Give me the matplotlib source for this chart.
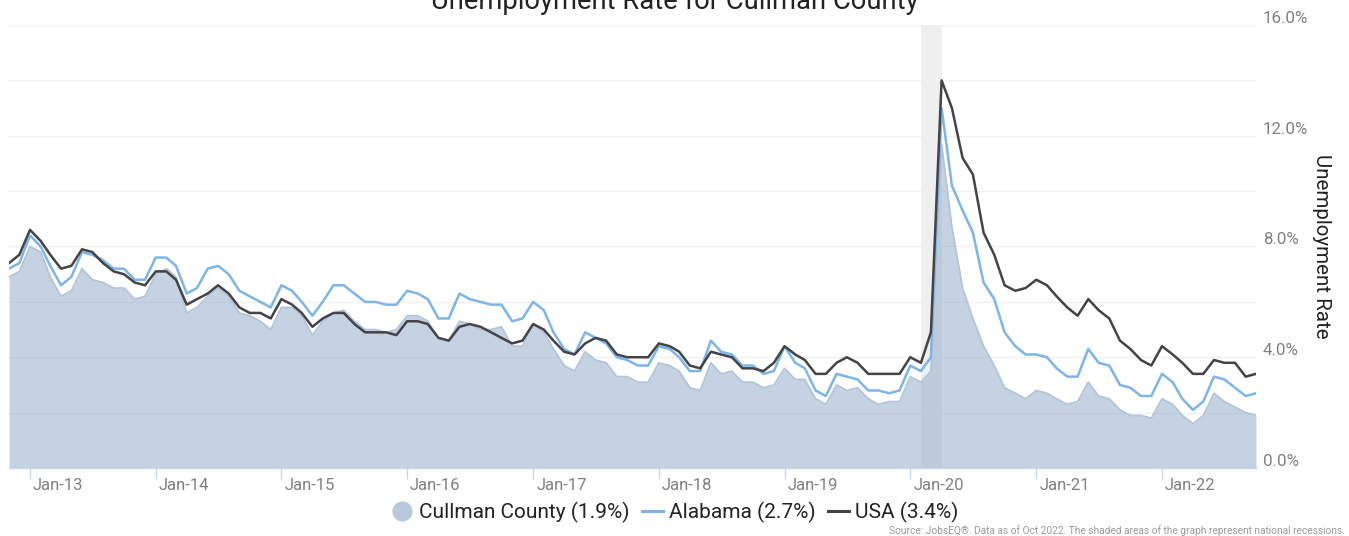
import numpy as np
import pandas as pd
import matplotlib
matplotlib.use("Agg")
import matplotlib.pyplot as plt
from matplotlib.transforms import ScaledTranslation
from matplotlib.lines import Line2D

plt.rcParams['font.family'] = ['Roboto', 'DejaVu Sans']

# ---------------- data ----------------
months = pd.date_range('2012-11-01', periods=120, freq='MS')

cullman = [6.9, 7.1, 8.0, 7.8, 6.9, 6.2, 6.4, 7.2, 6.8, 6.7, 6.5, 6.5,
           6.1, 6.2, 7.0, 7.2, 6.9, 5.6, 5.8, 6.2, 6.5, 6.2, 5.6, 5.5,
           5.3, 5.0, 5.8, 5.8, 5.5, 4.8, 5.3, 5.6, 5.7, 5.3, 5.0, 5.0,
           4.9, 5.0, 5.5, 5.5, 5.3, 4.7, 4.6, 5.3, 5.2, 5.0, 5.0, 5.1,
           4.4, 4.4, 5.2, 4.9, 4.3, 3.7, 3.5, 4.2, 3.9, 3.8, 3.3, 3.3,
           3.1, 3.1, 3.8, 3.7, 3.5, 2.9, 2.8, 3.8, 3.4, 3.5, 3.1, 3.1,
           2.9, 3.0, 3.6, 3.2, 3.2, 2.5, 2.3, 3.0, 2.8, 2.9, 2.5, 2.3,
           2.4, 2.4, 3.3, 3.1, 3.5, 11.7, 8.7, 6.5, 5.4, 4.4, 3.7, 2.9,
           2.7, 2.5, 2.8, 2.7, 2.5, 2.3, 2.4, 3.1, 2.6, 2.5, 2.1, 1.9,
           1.9, 1.8, 2.5, 2.3, 1.9, 1.6, 1.9, 2.7, 2.4, 2.2, 2.0, 1.9]

alabama = [7.2, 7.4, 8.4, 8.0, 7.3, 6.6, 6.9, 7.8, 7.7, 7.5, 7.2, 7.2,
           6.8, 6.8, 7.6, 7.6, 7.3, 6.3, 6.5, 7.2, 7.3, 7.0, 6.4, 6.2,
           6.0, 5.8, 6.6, 6.4, 6.0, 5.5, 6.0, 6.6, 6.6, 6.3, 6.0, 6.0,
           5.9, 5.9, 6.4, 6.3, 6.1, 5.4, 5.4, 6.3, 6.1, 6.0, 5.9, 5.9,
           5.3, 5.4, 6.0, 5.7, 4.9, 4.3, 4.1, 4.9, 4.7, 4.5, 4.0, 3.9,
           3.7, 3.7, 4.4, 4.3, 4.0, 3.5, 3.5, 4.6, 4.2, 4.1, 3.7, 3.7,
           3.4, 3.5, 4.4, 3.8, 3.6, 2.8, 2.6, 3.4, 3.3, 3.2, 2.8, 2.8,
           2.7, 2.8, 3.7, 3.5, 4.0, 13.0, 10.2, 9.3, 8.5, 6.7, 6.1, 4.9,
           4.4, 4.1, 4.1, 4.0, 3.6, 3.3, 3.3, 4.3, 3.8, 3.7, 3.0, 2.9,
           2.6, 2.6, 3.4, 3.1, 2.5, 2.1, 2.4, 3.3, 3.2, 2.9, 2.6, 2.7]

usa = [7.4, 7.7, 8.6, 8.2, 7.7, 7.2, 7.3, 7.9, 7.8, 7.4, 7.1, 7.0,
       6.7, 6.6, 7.1, 7.1, 6.8, 5.9, 6.1, 6.3, 6.6, 6.3, 5.8, 5.6,
       5.6, 5.4, 6.1, 5.9, 5.6, 5.1, 5.4, 5.6, 5.6, 5.2, 4.9, 4.9,
       4.9, 4.8, 5.3, 5.3, 5.2, 4.7, 4.6, 5.1, 5.2, 5.1, 4.9, 4.7,
       4.5, 4.6, 5.2, 5.0, 4.6, 4.2, 4.1, 4.5, 4.7, 4.6, 4.1, 4.0,
       4.0, 4.0, 4.5, 4.4, 4.2, 3.7, 3.6, 4.2, 4.1, 4.0, 3.6, 3.6,
       3.5, 3.8, 4.4, 4.1, 3.9, 3.4, 3.4, 3.8, 4.0, 3.8, 3.4, 3.4,
       3.4, 3.4, 4.0, 3.8, 4.9, 14.0, 13.0, 11.2, 10.6, 8.5, 7.7, 6.6,
       6.4, 6.5, 6.8, 6.6, 6.2, 5.8, 5.5, 6.1, 5.7, 5.4, 4.6, 4.3,
       3.9, 3.7, 4.4, 4.1, 3.8, 3.4, 3.4, 3.9, 3.8, 3.8, 3.3, 3.4]

recession_start = pd.Timestamp('2020-02-01')
recession_end = pd.Timestamp('2020-04-01')

title = 'Unemployment Rate for Cullman County'
legend_labels = ['Cullman County (1.9%)', 'Alabama (2.7%)', 'USA (3.4%)']
source = ('Source: JobsEQ\u00ae. Data as of Oct 2022. The shaded areas of the graph '
          'represent national recessions.')

# ---------------- figure ----------------
W, H = 1349, 536
fig = plt.figure(figsize=(W / 100, H / 100), dpi=100)
ax = fig.add_axes([9 / W, (H - 468) / H, (1256 - 9) / W, (468 - 25) / H])

fill_col = '#8ba7c7'
edge_col = '#b4c5da'
al_col = '#7cb5ec'
us_col = '#434348'

ax.axvspan(recession_start, recession_end, color='#efefef', zorder=0, lw=0)
ax.fill_between(months, cullman, 0, color=fill_col, alpha=0.5, lw=0, zorder=2)
ax.plot(months, cullman, color=edge_col, lw=1.3, zorder=2.5)
ax.plot(months, alabama, color=al_col, lw=1.8, zorder=3, solid_joinstyle='round')
ax.plot(months, usa, color=us_col, lw=1.8, zorder=4, solid_joinstyle='round')

ax.set_xlim(months[0], months[-1])
ax.set_ylim(0, 16)

# grid
ax.set_yticks(np.arange(0, 17, 4))
ax.set_yticks(np.arange(2, 16, 4), minor=True)
ax.grid(axis='y', which='both', color='#f0f0f0', lw=1.0, zorder=1)
ax.set_axisbelow(True)

ax.yaxis.tick_right()
ax.set_yticklabels([f'{v:.1f}%' for v in np.arange(0, 17, 4)])
ax.tick_params(axis='y', which='both', length=0, pad=5, labelsize=12.2,
               labelcolor='#808080')
for lbl in ax.get_yticklabels():
    lbl.set_verticalalignment('bottom')
    lbl.set_transform(lbl.get_transform() + ScaledTranslation(0, -1 / 100, fig.dpi_scale_trans))

# x ticks at January
jan = [d for d in months if d.month == 1]
ax.set_xticks(jan)
ax.set_xticklabels([d.strftime('Jan-%y') for d in jan])
ax.tick_params(axis='x', length=8, width=1, color='#ccd6eb', pad=-1,
               labelsize=12, labelcolor='#808080')
for lbl in ax.get_xticklabels():
    lbl.set_horizontalalignment('left')
    lbl.set_transform(lbl.get_transform() + ScaledTranslation(3 / 100, 0, fig.dpi_scale_trans))

for s in ['top', 'left', 'right']:
    ax.spines[s].set_visible(False)
ax.spines['bottom'].set_color('#ccd6eb')
ax.spines['bottom'].set_linewidth(1)

# axis title on right
fig.text(1322 / W, 1 - 246 / H, 'Unemployment Rate', rotation=-90, ha='center',
         va='center', fontsize=14.8, color='#222222')

# chart title (partly cut at top, as in the reference)
fig.text(675 / W, 1 - 1 / H, title, ha='center', va='center', fontsize=19.7,
         color='#222222')

# legend
handles = [Line2D([], [], ls='none', marker='o', markersize=13.5,
                  markerfacecolor='#b9c9dd', markeredgecolor='#b9c9dd'),
           Line2D([], [], color=al_col, lw=2.2),
           Line2D([], [], color=us_col, lw=2.2)]
fig.legend(handles, legend_labels, loc='center', ncol=3,
           bbox_to_anchor=(675 / W, 1 - 512 / H), frameon=False,
           fontsize=15, handlelength=1.0, handletextpad=0.3,
           columnspacing=0.6, labelcolor='#222222')

fig.text(1345 / W, 1 - 531 / H, source, ha='right', va='center', fontsize=7.3,
         color='#999999')

fig.savefig('out.png', dpi=100)
